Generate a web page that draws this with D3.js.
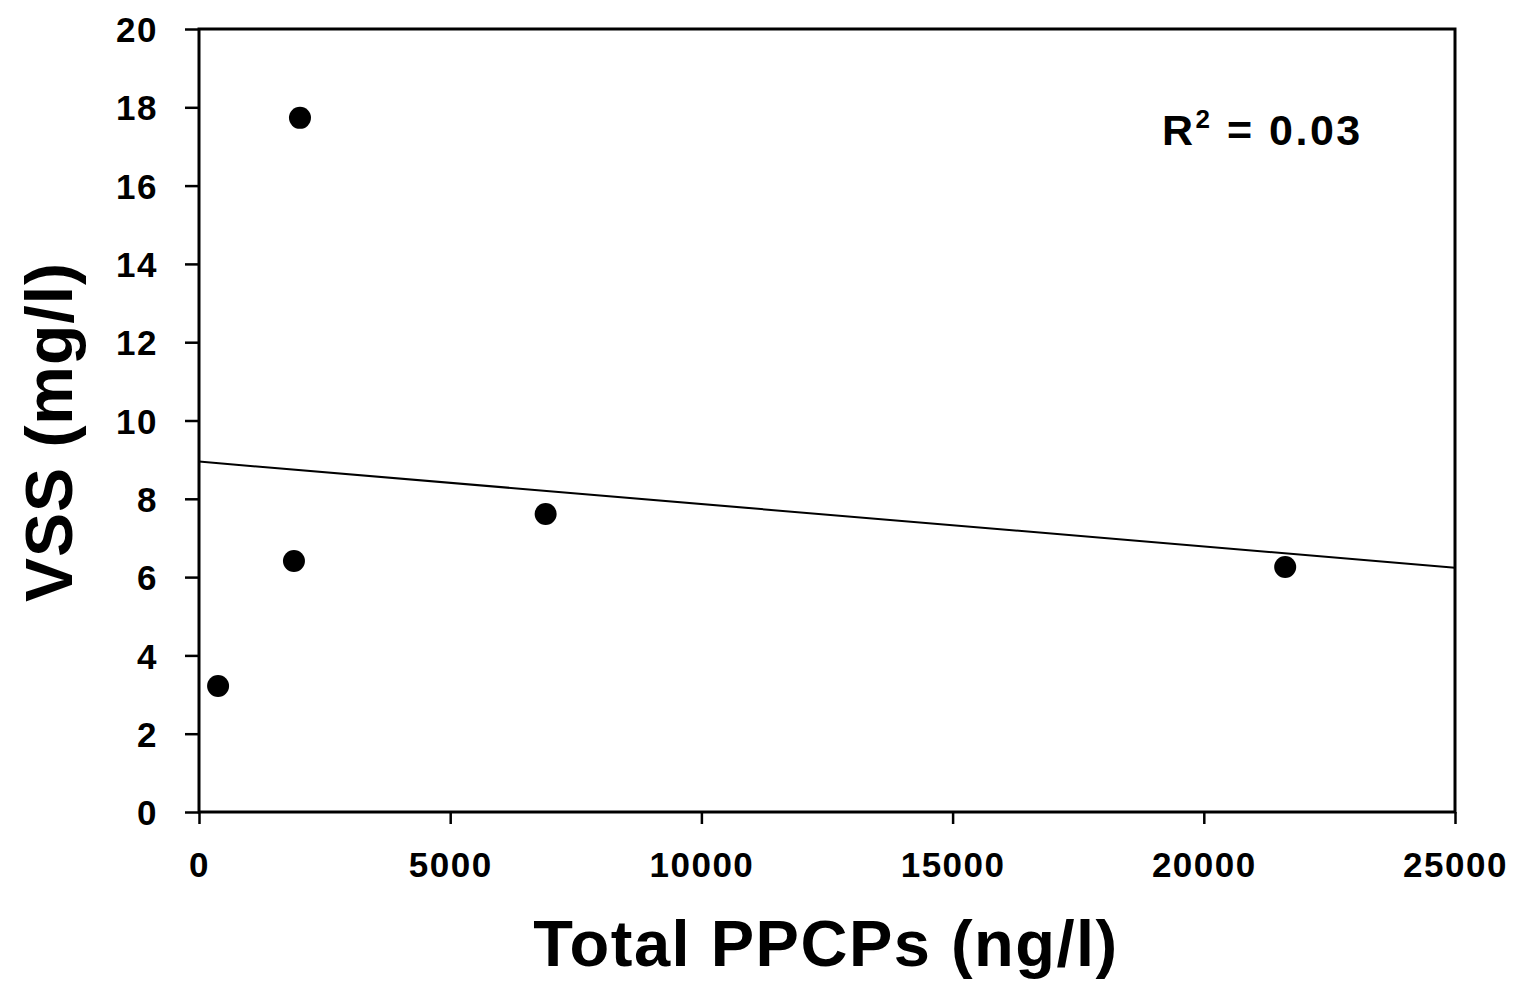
<!DOCTYPE html>
<html>
<head>
<meta charset="utf-8">
<script src="https://cdn.jsdelivr.net/npm/d3@7"></script>
<style>
  body { margin: 0; background: #fff; }
  svg { display: block; }
  .tick text { font-family: "Liberation Sans", Arial, sans-serif; font-weight: bold; font-size: 35px; fill: #000; letter-spacing: 1.5px; }
</style>
</head>
<body>
<script>
// data
var ppcps = [380, 1890, 2010, 6900, 21620];
var vss = [3.22, 6.41, 17.73, 7.61, 6.26];
var trendX = [0, 25000];
var trendY = [8.95, 6.24];
var xTicks = [0, 5000, 10000, 15000, 20000, 25000];
var yTicks = [0, 2, 4, 6, 8, 10, 12, 14, 16, 18, 20];
var r2Text = "0.03";

var width = 1520, height = 984;
var plotLeft = 199, plotRight = 1455, plotTop = 29, plotBottom = 812;

var svg = d3.select('body').append('svg')
  .attr('width', width)
  .attr('height', height);

var xScale = d3.scaleLinear().domain([0, 25000]).range([plotLeft, plotRight]);
var yScale = d3.scaleLinear().domain([0, 20]).range([plotBottom, plotTop]);

// frame
svg.append('rect')
  .attr('x', plotLeft).attr('y', plotTop)
  .attr('width', plotRight - plotLeft).attr('height', plotBottom - plotTop)
  .attr('fill', 'none').attr('stroke', '#000').attr('stroke-width', 3);

var xAxis = d3.axisBottom(xScale).tickValues(xTicks).tickSize(12).tickSizeOuter(0).tickPadding(28)
  .tickFormat(d3.format('d'));
var gx = svg.append('g').attr('transform', 'translate(0,' + plotBottom + ')').call(xAxis);
gx.select('.domain').remove();
gx.selectAll('line').attr('stroke', '#000').attr('stroke-width', 2.5);

var yAxis = d3.axisLeft(yScale).tickValues(yTicks).tickSize(14).tickSizeOuter(0).tickPadding(27);
var gy = svg.append('g').attr('transform', 'translate(' + plotLeft + ',0)').call(yAxis);
gy.select('.domain').remove();
gy.selectAll('line').attr('stroke', '#000').attr('stroke-width', 2.5);
gy.selectAll('text').attr('dy', '0.36em');

// trend line
svg.append('line')
  .attr('x1', xScale(trendX[0])).attr('y1', yScale(trendY[0]))
  .attr('x2', xScale(trendX[1])).attr('y2', yScale(trendY[1]))
  .attr('stroke', '#000').attr('stroke-width', 2);

// points
svg.selectAll('circle.pt')
  .data(ppcps)
  .enter()
  .append('circle')
  .attr('class', 'pt')
  .attr('cx', function (d) { return xScale(d); })
  .attr('cy', function (d, i) { return yScale(vss[i]); })
  .attr('r', 11)
  .attr('fill', '#000');

// R squared
var r2 = svg.append('text')
  .attr('x', 1162).attr('y', 145)
  .attr('font-family', '"Liberation Sans", Arial, sans-serif')
  .attr('font-weight', 'bold').attr('font-size', 43)
  .attr('letter-spacing', 2.5);
r2.append('tspan').text('R');
r2.append('tspan').attr('font-size', 26).attr('dy', -17).text('2');
r2.append('tspan').attr('dy', 17).text(' = ' + r2Text);

// axis titles
svg.append('text')
  .attr('x', 826).attr('y', 966)
  .attr('text-anchor', 'middle')
  .attr('font-family', '"Liberation Sans", Arial, sans-serif')
  .attr('font-weight', 'bold').attr('font-size', 65)
  .attr('letter-spacing', 1.5)
  .text('Total PPCPs (ng/l)');

svg.append('text')
  .attr('transform', 'translate(72,432) rotate(-90)')
  .attr('text-anchor', 'middle')
  .attr('font-family', '"Liberation Sans", Arial, sans-serif')
  .attr('font-weight', 'bold').attr('font-size', 66)
  .attr('letter-spacing', 1)
  .text('VSS (mg/l)');
</script>
</body>
</html>
